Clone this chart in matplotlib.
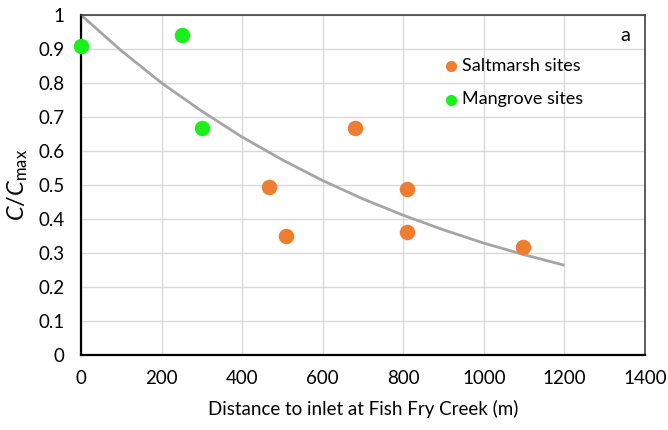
import matplotlib
matplotlib.use("Agg")
import matplotlib.pyplot as plt

# Site observations: distance to inlet (m) and normalised concentration C/Cmax
saltmarsh_x = [467, 509, 680, 808, 808, 1098]
saltmarsh_y = [0.495, 0.350, 0.668, 0.488, 0.363, 0.319]
mangrove_x = [0, 250, 300]
mangrove_y = [0.910, 0.941, 0.668]

# Fitted decay curve sampled every 100 m
curve_x = [0, 100, 200, 300, 400, 500, 600, 700, 800, 900, 1000, 1100, 1200]
curve_y = [1.000, 0.895, 0.800, 0.717, 0.641, 0.574, 0.513, 0.459, 0.411,
           0.368, 0.329, 0.295, 0.264]

x_ticks = [0, 200, 400, 600, 800, 1000, 1200, 1400]
y_ticks = [0, 0.1, 0.2, 0.3, 0.4, 0.5, 0.6, 0.7, 0.8, 0.9, 1]
y_tick_labels = ["0", "0.1", "0.2", "0.3", "0.4", "0.5", "0.6", "0.7", "0.8", "0.9", "1"]

plt.rcParams["font.family"] = ["Lato", "DejaVu Sans"]
plt.rcParams["mathtext.fontset"] = "custom"
plt.rcParams["mathtext.rm"] = "Lato"
plt.rcParams["mathtext.it"] = "Lato:italic"

fig = plt.figure(figsize=(6.68, 4.30), dpi=100)
ax = fig.add_axes([0.1213, 0.1744, 0.8443, 0.7907])

ax.set_xlim(0, 1400)
ax.set_ylim(0, 1)
ax.set_xticks(x_ticks)
ax.set_yticks(y_ticks)
ax.set_yticklabels(y_tick_labels)
ax.grid(True, color="#D9D9D9", linewidth=1.0)
ax.set_axisbelow(True)
ax.tick_params(length=0, labelsize=13.5, colors="#000000")
ax.tick_params(axis="y", pad=12)
ax.tick_params(axis="x", pad=11)

for side in ("left", "bottom"):
    ax.spines[side].set_color("#000000")
    ax.spines[side].set_linewidth(1.6)
for side in ("top", "right"):
    ax.spines[side].set_color("#404040")
    ax.spines[side].set_linewidth(1.2)

ax.plot(curve_x, curve_y, color="#A5A5A5", linewidth=2.0, zorder=2,
        solid_capstyle="butt", clip_on=False)
ax.scatter(saltmarsh_x, saltmarsh_y, s=125, color="#ED7D31", zorder=3,
           linewidths=0, label="Saltmarsh sites", clip_on=False)
ax.scatter(mangrove_x, mangrove_y, s=125, color="#1AF01A", zorder=3,
           linewidths=0, label="Mangrove sites", clip_on=False)

leg = ax.legend(loc="upper left", bbox_to_anchor=(0.640, 0.874), frameon=False,
                fontsize=13, handletextpad=0.1, markerscale=0.72,
                labelspacing=0.97, borderaxespad=0, borderpad=0,
                handlelength=1.0)

ax.text(0.973, 0.965, "a", transform=ax.transAxes, ha="right", va="top",
        fontsize=14.5)

ax.set_xlabel("Distance to inlet at Fish Fry Creek (m)", fontsize=13.5, labelpad=9)
ax.set_ylabel(r"$C/C_{\mathrm{max}}$", fontsize=17, labelpad=6)

fig.savefig("out.png", dpi=100)
